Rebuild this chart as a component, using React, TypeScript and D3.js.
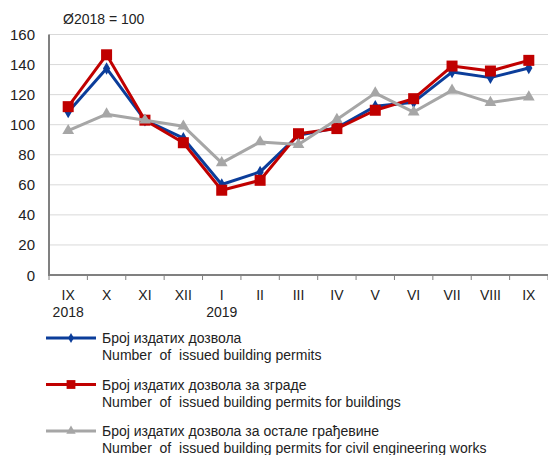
import * as d3 from 'd3';

const months = ['IX', 'X', 'XI', 'XII', 'I', 'II', 'III', 'IV', 'V', 'VI', 'VII', 'VIII', 'IX'];
const years = ['2018', '', '', '', '2019', '', '', '', '', '', '', '', ''];

const permits = [108.4, 137.4, 103, 91, 60.2, 68.6, 93, 98, 112.2, 115, 135, 131.3, 137.7];
const permitsBuildings = [112, 146.5, 103, 88, 56.4, 63, 94, 97.4, 109.6, 117.3, 139, 135.7, 142.8];
const permitsCivil = [96, 107, 103, 99, 74.6, 88.5, 86.8, 103.4, 121, 108.4, 122.8, 114.7, 118.4];

const yTicks = [0, 20, 40, 60, 80, 100, 120, 140, 160];

const series = [
  { name: 'Број издатих дозвола', en: 'Number  of  issued building permits', values: permits, color: '#0b3d9a', marker: 'diamond' },
  { name: 'Број издатих дозвола за зграде', en: 'Number  of  issued building permits for buildings', values: permitsBuildings, color: '#c00000', marker: 'square' },
  { name: 'Број издатих дозвола за остале грађевине', en: 'Number  of  issued building permits for civil engineering works', values: permitsCivil, color: '#a6a6a6', marker: 'triangle' },
];

const W = 548;
const H = 455;
const left = 49;
const right = 548;
const top = 34.5;
const bottom = 275;

// keep the double spaces of the original labels
const keepSpaces = (s: string) => s.replace(/  /g, ' \u00a0');

const Marker = ({ type, x, y, color, k = 1 }: { type: string; x: number; y: number; color: string; k?: number }) => {
  if (type === 'diamond') {
    const s = d3.symbol(d3.symbolDiamond, 45 * k * k)();
    return <path d={s || ''} transform={`translate(${x},${y})`} fill={color} />;
  }
  if (type === 'square') {
    const h = 5.5 * k;
    return <rect x={x - h} y={y - h} width={2 * h} height={2 * h} fill={color} />;
  }
  const t = d3.symbol(d3.symbolTriangle, 60 * k * k)();
  return <path d={t || ''} transform={`translate(${x},${y})`} fill={color} />;
};

const App = () => {
  const x = d3.scaleBand<number>().domain(d3.range(months.length)).range([left, right]);
  const y = d3.scaleLinear().domain([0, 160]).range([bottom, top]);
  const cx = (i: number) => (x(i) as number) + x.bandwidth() / 2;
  const line = d3.line<number>().x((_, i) => cx(i)).y((d) => y(d));
  const font = 'Liberation Sans, Arial, sans-serif';

  return (
    <svg width={W} height={H} style={{ position: 'absolute', left: 0, top: 0, fontFamily: font }}>
      <rect width={W} height={H} fill="#fff" />
      <text x={63} y={24} fontSize={14} fill="#222">Ø2018 = 100</text>

      {yTicks.map((t) => (
        <g key={t}>
          {t > 0 && <line x1={left} x2={right} y1={y(t)} y2={y(t)} stroke="#d9d9d9" strokeWidth={1} />}
          <text x={35} y={y(t) + 5.5} fontSize={15} textAnchor="end" fill="#222">{t}</text>
        </g>
      ))}

      <line x1={left} x2={left} y1={top} y2={bottom} stroke="#808080" strokeWidth={2} />
      <line x1={left - 1} x2={right} y1={bottom} y2={bottom} stroke="#808080" strokeWidth={2} />
      {d3.range(months.length + 1).map((i) => {
        const px = left + i * x.bandwidth();
        return <line key={i} x1={px} x2={px} y1={bottom} y2={bottom + 5} stroke="#808080" strokeWidth={1} />;
      })}
      {months.map((m, i) => (
        <g key={i}>
          <text x={cx(i)} y={300} fontSize={14} textAnchor="middle" fill="#222">{m}</text>
          {years[i] && <text x={cx(i)} y={317} fontSize={14} textAnchor="middle" fill="#222">{years[i]}</text>}
        </g>
      ))}

      {series.map((s) => (
        <g key={s.name}>
          <path d={line(s.values) || ''} fill="none" stroke={s.color} strokeWidth={3} strokeLinejoin="round" />
          {s.values.map((v, i) => (
            <Marker key={i} type={s.marker} x={cx(i)} y={y(v)} color={s.color} />
          ))}
        </g>
      ))}

      {series.map((s, k) => {
        const ly = 338 + k * 46.5;
        return (
          <g key={s.name}>
            <line x1={46} x2={96} y1={ly} y2={ly} stroke={s.color} strokeWidth={3} />
            <Marker type={s.marker} x={71} y={ly} color={s.color} k={0.8} />
            <text x={102} y={ly + 5} fontSize={14} fill="#222">{s.name}</text>
            <text x={102} y={ly + 22} fontSize={14} fill="#222">{keepSpaces(s.en)}</text>
          </g>
        );
      })}
    </svg>
  );
};

export default App;
